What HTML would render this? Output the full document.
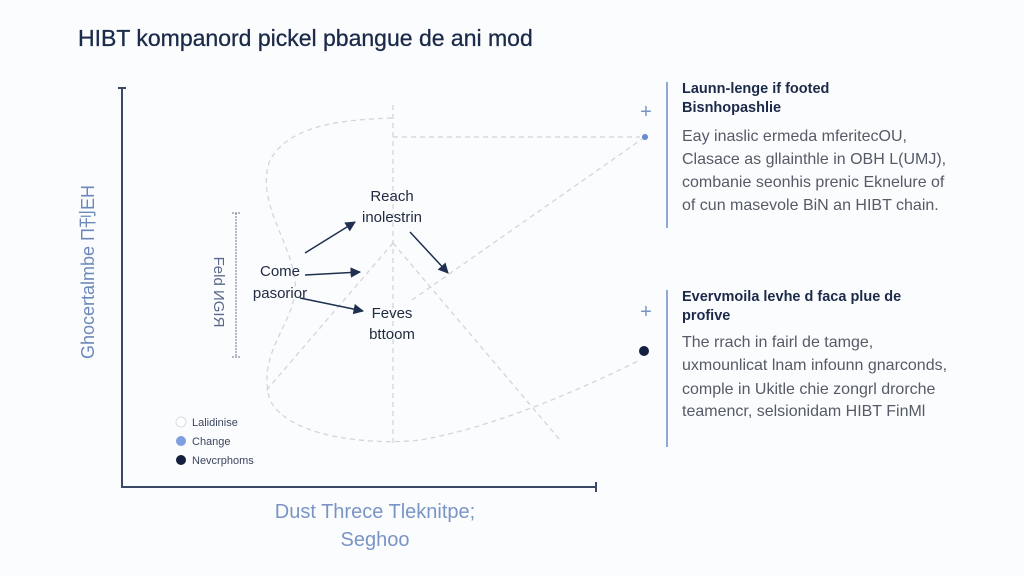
<!DOCTYPE html>
<html><head><meta charset="utf-8"><style>
html,body{margin:0;padding:0;background:#fbfcfd;width:1024px;height:576px;overflow:hidden}
svg{display:block;font-family:"Liberation Sans",sans-serif}
</style></head><body>
<svg width="1024" height="576" viewBox="0 0 1024 576">
<defs><marker id="a" viewBox="0 0 10 10" refX="9" refY="5" markerWidth="7" markerHeight="7" orient="auto"><path d="M0,0L10,5L0,10z" fill="#1f2f4f"/></marker></defs>
<text x="78" y="46" font-size="23" fill="#1c2a4a" stroke="#1c2a4a" stroke-width="0.3">HIBT kompanord pickel pbangue de ani mod</text>
<g stroke="#3a4a66" stroke-width="2" fill="none">
<path d="M122,88V487H596"/><path d="M118,88h8M596,482v10"/>
</g>
<g stroke="#d0d6de" stroke-width="1.3" fill="none" stroke-dasharray="5,4">
<path d="M392,118C340,120 290,125 270,160C255,200 290,240 295,280C300,320 255,350 270,400C290,440 380,445 420,440C480,430 560,400 640,360"/>
<path d="M393,105V445"/><path d="M393,137H640"/>
<path d="M393,243L265,392"/><path d="M393,243L560,440"/>
<path d="M412,300L645,137"/>
</g>
<path d="M236,213V357M232,213h8M232,357h8" stroke="#6a7590" stroke-width="1" fill="none" stroke-dasharray="2,1"/>
<text transform="translate(94,272) rotate(-90)" text-anchor="middle" font-size="18" fill="#6c88ba">Ghocertalmbe  Π刊ЕН</text>
<text transform="translate(214,292) rotate(90)" text-anchor="middle" font-size="15" fill="#5a6a8a">Feld ИGIЯ</text>
<g font-size="15" fill="#1f2a40" text-anchor="middle">
<text x="392" y="201">Reach</text><text x="392" y="222">inolestrin</text>
<text x="280" y="276">Come</text><text x="280" y="298">pasorior</text>
<text x="392" y="318">Feves</text><text x="392" y="339">bttoom</text>
</g>
<g stroke="#1f2f4f" stroke-width="1.5" marker-end="url(#a)">
<line x1="305" y1="253" x2="355" y2="222"/><line x1="305" y1="275" x2="360" y2="272"/>
<line x1="300" y1="298" x2="363" y2="311"/><line x1="410" y1="232" x2="448" y2="273"/>
</g>
<circle cx="181" cy="422" r="5" fill="#fff" stroke="#d8dde5"/>
<circle cx="181" cy="441" r="5" fill="#7f9ee0"/>
<circle cx="181" cy="460" r="5" fill="#132040"/>
<g font-size="11" fill="#3a4660"><text x="192" y="426">Lalidinise</text><text x="192" y="445">Change</text><text x="192" y="464">Nevcrphoms</text></g>
<text x="375" y="518" text-anchor="middle" font-size="20" fill="#7a95c5">Dust Threce Tleknitpe;</text>
<text x="375" y="546" text-anchor="middle" font-size="20" fill="#7a95c5">Seghoo</text>
<g stroke="#8fa8d8" stroke-width="2"><line x1="667" y1="82" x2="667" y2="228"/><line x1="667" y1="290" x2="667" y2="447"/></g>
<g fill="#7a95c5" font-size="20" text-anchor="middle"><text x="646" y="118">+</text><text x="646" y="318">+</text></g>
<circle cx="645" cy="137" r="3" fill="#6a8ad0"/><circle cx="644" cy="351" r="5" fill="#132040"/>
<g font-size="14.5" font-weight="bold" fill="#1c2a4a">
<text x="682" y="93">Launn-lenge if footed</text><text x="682" y="112">Bisnhopashlie</text>
<text x="682" y="301">Evervmoila levhe d faca plue de</text><text x="682" y="320">profive</text>
</g>
<g font-size="16" fill="#555b66">
<text x="682" y="141">Eay inaslic ermeda mferitecOU,</text>
<text x="682" y="164">Clasace as gllainthle in OBH L(UMJ),</text>
<text x="682" y="187">combanie seonhis prenic Eknelure of</text>
<text x="682" y="210">of cun masevole BiN an HIBT chain.</text>
<text x="682" y="347">The rrach in fairl de tamge,</text>
<text x="682" y="370">uxmounlicat lnam infounn gnarconds,</text>
<text x="682" y="394">comple in Ukitle chie zongrl drorche</text>
<text x="682" y="416">teamencr, selsionidam HIBT FinMl</text>
</g>
</svg>
</body></html>
